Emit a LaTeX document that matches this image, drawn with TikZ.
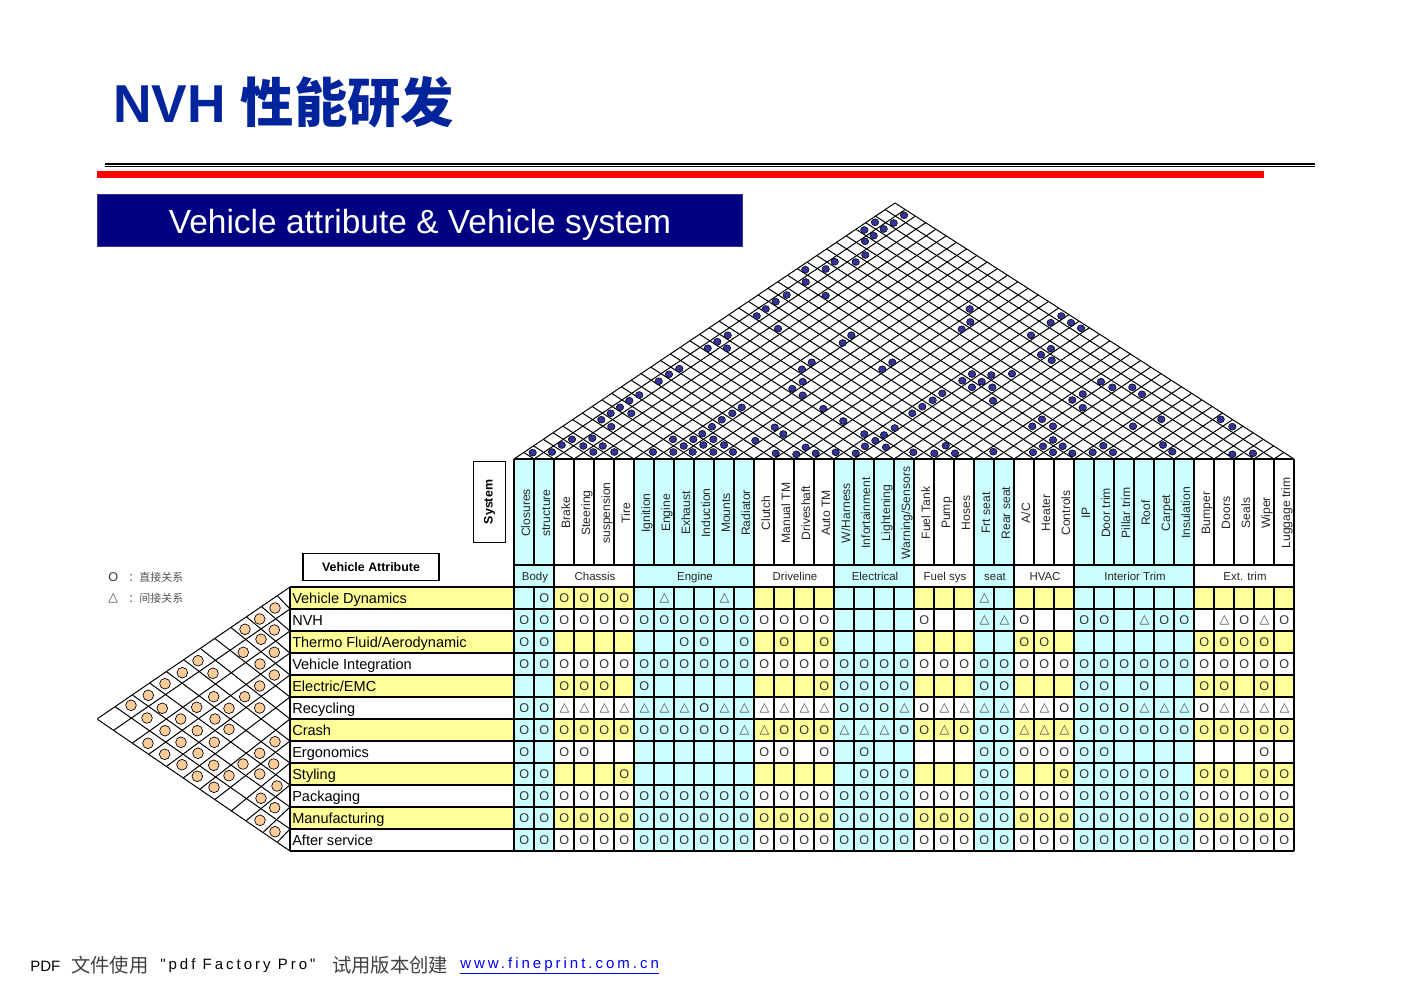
\documentclass[tikz,border=0pt]{standalone}
\usepackage{fontspec}
\setmainfont{Liberation Sans}
\newfontfamily\plainsans{Liberation Sans}
\newfontfamily\cjk{Noto Sans CJK SC}
\newfontfamily\symb{DejaVu Sans}
\usetikzlibrary{calc, positioning, shapes.geometric}

\definecolor{titleblue}{RGB}{0,36,156}
\definecolor{barnavy}{RGB}{0,0,128}
\definecolor{cellyellow}{RGB}{255,255,153}
\definecolor{cellcyan}{RGB}{204,255,255}
\definecolor{dotnavy}{RGB}{51,51,153}
\definecolor{dotorange}{RGB}{255,204,153}
\definecolor{softgray}{RGB}{85,85,85}

\begin{document}
\begin{tikzpicture}[x=0.75pt, y=-0.75pt,
    title/.style={anchor=west, inner sep=0pt, text=titleblue, font=\fontsize{40}{40}\selectfont\bfseries},
    banner/.style={draw=dotnavy, fill=barnavy, text=white, minimum width=484pt, minimum height=39pt,
                   inner sep=0pt, text height=19.5pt, text depth=0pt, font=\fontsize{25.1}{25}\selectfont},
    headbox/.style={draw, thick, fill=white, inner sep=0pt, font=\fontsize{9.3}{9}\selectfont\bfseries},
    rowlabel/.style={anchor=west, inner sep=0pt, text height=8pt, text depth=2.4pt, font=\fontsize{10.9}{11}\selectfont},
    collabel/.style={rotate=90, inner sep=0pt, text height=6.5pt, text depth=2pt, text=black!85, font=\fontsize{9.1}{9}\selectfont},
    grouplabel/.style={inner sep=0pt, text height=6.2pt, text depth=1.9pt, text=black!85, font=\fontsize{8.6}{9}\selectfont},
    markO/.style={inner sep=0pt, text=black!80, font=\fontsize{9.5}{9}\selectfont},
    markT/.style={inner sep=0pt, text=black!70, font=\fontsize{9.5}{9.5}\selectfont\symb},
    legend/.style={anchor=west, inner sep=0pt, text=softgray, font=\fontsize{8.25}{9}\selectfont\cjk},
    footer/.style={anchor=west, inner sep=0pt, font=\fontsize{11.25}{12}\selectfont},
    footercjk/.style={footer, text=black!75, font=\fontsize{14.5}{15}\selectfont\cjk},
    tableline/.style={line width=1pt, black},
    latticeline/.style={line width=0.75pt, black},
    roofdot/.style={ellipse, draw, line width=0.4pt, fill=dotnavy, minimum width=5.6pt, minimum height=5.2pt, inner sep=0pt},
    leftdot/.style={circle, draw, line width=0.5pt, fill=dotorange, minimum size=8pt, inner sep=0pt}]

    \useasboundingbox (0,0) rectangle (1402,992);

    % title and rules
    \node[title] (title) at (113,102) {NVH {\cjk 性能研发}};
    \draw[line width=1.5pt] (105,163.5) -- (1315,163.5);
    \draw[line width=1pt] (105,166.7) -- (1315,166.7);
    \fill[red] (97,171) rectangle (1264,178);
    \node[banner] (banner) at (420,220) {Vehicle attribute \& Vehicle system};

    % legend
    \node[legend, text=black!80, font=\fontsize{9.5}{9}\selectfont] (legO) at (108,577) {O};
    \node[legend] (legOtext) at (128,577) {：直接关系};
    \node[legend, text=black!70, font=\fontsize{9.5}{9.5}\selectfont\symb] (legT) at (108,598.5) {△};
    \node[legend] (legTtext) at (128,598.5) {：间接关系};

    % header boxes
    \node[headbox, minimum width=102pt, minimum height=20.5pt] (attrbox) at (371,567) {Vehicle Attribute};
    \node[headbox, rotate=90, minimum width=61pt, minimum height=24pt] (sysbox) at (489.5,502) {System};

    % row bands
    \foreach \r in {0,2,...,10}
        \fill[cellyellow] (290,{587+22*\r}) rectangle (1294,{609+22*\r});

    % cyan columns
    \foreach \first/\num in {0/2, 6/6, 16/4, 23/2, 28/6}
        \fill[cellcyan] ({514+20*\first},459) rectangle ({514+20*(\first+\num)},851);

    % groups of systems
    \foreach \first/\num/\gname in {0/2/Body, 2/4/Chassis, 6/6/Engine, 12/4/Driveline, 16/4/Electrical,
            20/3/Fuel sys, 23/2/seat, 25/3/HVAC, 28/6/Interior Trim, 34/5/Ext. trim} {
        \node[grouplabel] (grp\first) at ({515+20*\first+10*\num},578) {\gname};
        \draw[tableline] ({514+20*\first},565) -- ({514+20*\first},587);
    }

    % table lines
    \foreach \c in {0,...,39} {
        \draw[tableline] ({514+20*\c},459) -- ({514+20*\c},565);
        \draw[tableline] ({514+20*\c},587) -- ({514+20*\c},851);
    }
    \draw[tableline] (1294,565) -- (1294,587);
    \draw[tableline] (514,459) -- (1294,459);
    \draw[tableline] (514,565) -- (1294,565);
    \foreach \r in {0,...,12}
        \draw[tableline] (290,{587+22*\r}) -- (1294,{587+22*\r});
    \draw[tableline] (290,587) -- (290,851);

    % system names
    \foreach \name [count=\c from 0] in {Closures, structure, Brake, Steering, suspension, Tire,
            Ignition, Engine, Exhaust, Induction, Mounts, Radiator, Clutch, Manual TM, Driveshaft, Auto TM,
            W/Harness, Infortainment, Lightening, Warning/Sensors, Fuel Tank, Pump, Hoses, Frt seat, Rear seat,
            A/C, Heater, Controls, IP, Door trim, Pillar trim, Roof, Carpet, Insulation,
            Bumper, Doors, Seals, Wiper, Luggage trim}
        \node[collabel] (sys\c) at ({527+20*\c},513) {\name};

    % attribute names
    \foreach \name [count=\r from 0] in {Vehicle Dynamics, NVH, Thermo Fluid/Aerodynamic, Vehicle Integration,
            Electric/EMC, Recycling, Crash, Ergonomics, Styling, Packaging, Manufacturing, After service}
        \node[rowlabel] (attr\r) at (292,{600+22*\r}) {\name};

    % relation marks, one list per attribute
    \foreach \row [count=\r from 0] in {
        {-,O,O,O,O,O,-,T,-,-,T,-,-,-,-,-,-,-,-,-,-,-,-,T,-,-,-,-,-,-,-,-,-,-,-,-,-,-,-},
        {O,O,O,O,O,O,O,O,O,O,O,O,O,O,O,O,-,-,-,-,O,-,-,T,T,O,-,-,O,O,-,T,O,O,-,T,O,T,O},
        {O,O,-,-,-,-,-,-,O,O,-,O,-,O,-,O,-,-,-,-,-,-,-,-,-,O,O,-,-,-,-,-,-,-,O,O,O,O,-},
        {O,O,O,O,O,O,O,O,O,O,O,O,O,O,O,O,O,O,O,O,O,O,O,O,O,O,O,O,O,O,O,O,O,O,O,O,O,O,O},
        {-,-,O,O,O,-,O,-,-,-,-,-,-,-,-,O,O,O,O,O,-,-,-,O,O,-,-,-,O,O,-,O,-,-,O,O,-,O,-},
        {O,O,T,T,T,T,T,T,T,O,T,T,T,T,T,T,O,O,O,T,O,T,T,T,T,T,T,O,O,O,O,T,T,T,O,T,T,T,T},
        {O,O,O,O,O,O,O,O,O,O,O,T,T,O,O,O,T,T,T,O,O,T,O,O,O,T,T,T,O,O,O,O,O,O,O,O,O,O,O},
        {O,-,O,O,-,-,-,-,-,-,-,-,O,O,-,O,-,O,-,-,-,-,-,O,O,O,O,O,O,O,-,-,-,-,-,-,-,O,-},
        {O,O,-,-,-,O,-,-,-,-,-,-,-,-,-,-,-,O,O,O,-,-,-,O,O,-,-,O,O,O,O,O,O,-,O,O,-,O,O},
        {O,O,O,O,O,O,O,O,O,O,O,O,O,O,O,O,O,O,O,O,O,O,O,O,O,O,O,O,O,O,O,O,O,O,O,O,O,O,O},
        {O,O,O,O,O,O,O,O,O,O,O,O,O,O,O,O,O,O,O,O,O,O,O,O,O,O,O,O,O,O,O,O,O,O,O,O,O,O,O},
        {O,O,O,O,O,O,O,O,O,O,O,O,O,O,O,O,O,O,O,O,O,O,O,O,O,O,O,O,O,O,O,O,O,O,O,O,O,O,O}} {
        \foreach \m [count=\c from 0] in \row {
            \if\m O
                \node[markO] (m\r-\c) at ({524.4+20*\c},{598.4+22*\r}) {O};
            \fi
            \if\m T
                \node[markT] (m\r-\c) at ({524.4+20*\c},{598+22*\r}) {△};
            \fi
        }
    }

    % roof over the systems
    \coordinate (roofL) at (514,459);
    \coordinate (roofT) at (895,203);
    \coordinate (roofR) at (1294,459);
    \foreach \k in {0,...,39} {
        \draw[latticeline] ($(roofL)!\k/39!(roofR)$) -- ($(roofT)!\k/39!(roofR)$);
        \draw[latticeline] ($(roofL)!\k/39!(roofT)$) -- ($(roofL)!\k/39!(roofR)$);
    }
    \foreach \x/\y [count=\d] in {532.7/452.7,552/452,593.3/452,614.3/452,653/452,673.3/452,692.7/452,713.3/452,733/452,
            775.7/453.3,796.3/454.3,815.7/453.3,835.7/452.3,855.7/453.3,913.3/452.3,934.3/453.3,955/453.3,993.3/451.7,
            1033/452.3,1053/452.3,1072.3/453.3,1092.7/452.3,1113/452.3,1172.3/451.7,1232.3/454.3,1253/453.3,
            561.7/445,583.3/446,602.7/446,683.7/446,703.3/445,724/445,805.7/447.3,865/446.3,886/447.3,945.7/445.7,
            1043/446.3,1062.7/446.3,1103.3/445.7,1163/445,
            572/439.3,592.3/438.3,673/439.3,693.3/439.3,713.3/439.3,755.3/440.7,875.3/440.7,1053/440,
            702.3/433.7,783.3/434,864.3/434,884/435,
            611.3/426.7,712/426.7,774.7/427.3,894.7/428,1032.3/426.3,1053/426.3,1133/426.3,1232.3/426.7,
            601.3/419.7,721.7/419.7,843.3/421,1042/419.3,1161.3/419.3,1220.7/419.3,
            610.7/413.3,631.3/413.3,732.3/413.3,912.3/413.3,
            620/407.3,741.7/407.3,823.3/408.7,922.3/406.7,1082.7/407.7,
            629.3/400.7,932.7/400.3,993/400.7,1072.3/400,
            639.3/395,802.7/395.3,942.3/393.3,1082.7/394,1142/394.3,
            792.3/388.7,972/387.3,992.3/387.3,1112.3/387.3,1132.3/387.3,
            658.7/381.3,802.7/381.7,962.3/380.7,981.7/381.7,1101/381.7,
            669/374.3,972/374,991.3/375,1012/373.7,
            679.3/368.7,802/369.3,882.3/369.3,
            811.7/362.3,892.3/362.3,1051.7/360.3,
            1041/354.7,
            707.7/348.3,727/348.3,1051/348.7,
            717.3/341.7,842.7/343,
            727.7/335.3,851.3/335.3,1031/335.3,
            778/328.7,961.7/329.3,1081/328.3,
            970.3/322,1050.7/322.7,1071/322.7,
            756.7/316,1061.3/316,
            765.7/309,969.7/309,
            775.7/301.7,
            786.7/295,825.7/295.7,
            805.7/282,
            805.3/269.7,825.7/269,
            834.7/261.7,855.7/262,
            865.3/255,
            865/241.3,
            873.7/235.7,
            864.3/230,883.7/229,
            875/222.3,893.7/223,
            904/215.3}
        \node[roofdot] (rd\d) at (\x,\y) {};

    % lattice left of the attributes, cells are not all alike
    \foreach \k/\xu/\xl in {0/290/97.5, 1/277.3/114, 2/261.5/132.7, 3/246.5/149, 4/231/166.7, 5/215/183.5,
            6/200.5/200, 7/184/215, 8/166.7/231.5, 9/150/246, 10/132.7/263, 11/115.5/277.3, 12/97.5/290}
        \draw[latticeline] (\xu,{587+(290-\xu)*0.6875}) -- (290,{587+22*\k}) -- (\xl,{851-(290-\xl)*0.6875});
    \foreach \x/\y [count=\d] in {275/608,274.3/630,274.3/652.3,274.3/675,275/741.7,273.7/764,277/786,274.7/807.7,275/831.7,
            259.7/619,261/639.3,260/664,259.7/686,259.7/708,259.7/753.3,259.7/774,261/798.3,260/820.3,
            245/629.3,243.3/652.3,244.7/696.7,243/764,
            229/708.3,229/729.3,229/775.7,
            214/787.3,213.7/696.7,215/719,214.3/742.3,213.7/765.3,213/673.3,
            198/660.7,196.7/707.3,197.3/730.7,198/753.3,197.3/776.3,
            182.3/672.7,180.7/719,181/742.3,182/764.7,
            165/683.7,162.3/708.3,165/730.7,164.7/754.3,
            148.3/695.3,147/718,148/743.3,
            131/705.3}
        \node[leftdot] (ld\d) at (\x,\y) {};

    % footer
    \node[footer] (pdf) at (30,966) {PDF};
    \node[footercjk] (pdf1) at (71,965) {文件使用};
    \node[footer] (pdf2) at (160,966) {\plainsans\addfontfeature{LetterSpace=20}"pdf Factory Pro"};
    \node[footercjk] (pdf3) at (332,965) {试用版本创建};
    \node[footer, text=blue] (pdf4) at (460,966) {\addfontfeature{LetterSpace=20}\underline{www.fineprint.com.cn}};
\end{tikzpicture}
\end{document}
